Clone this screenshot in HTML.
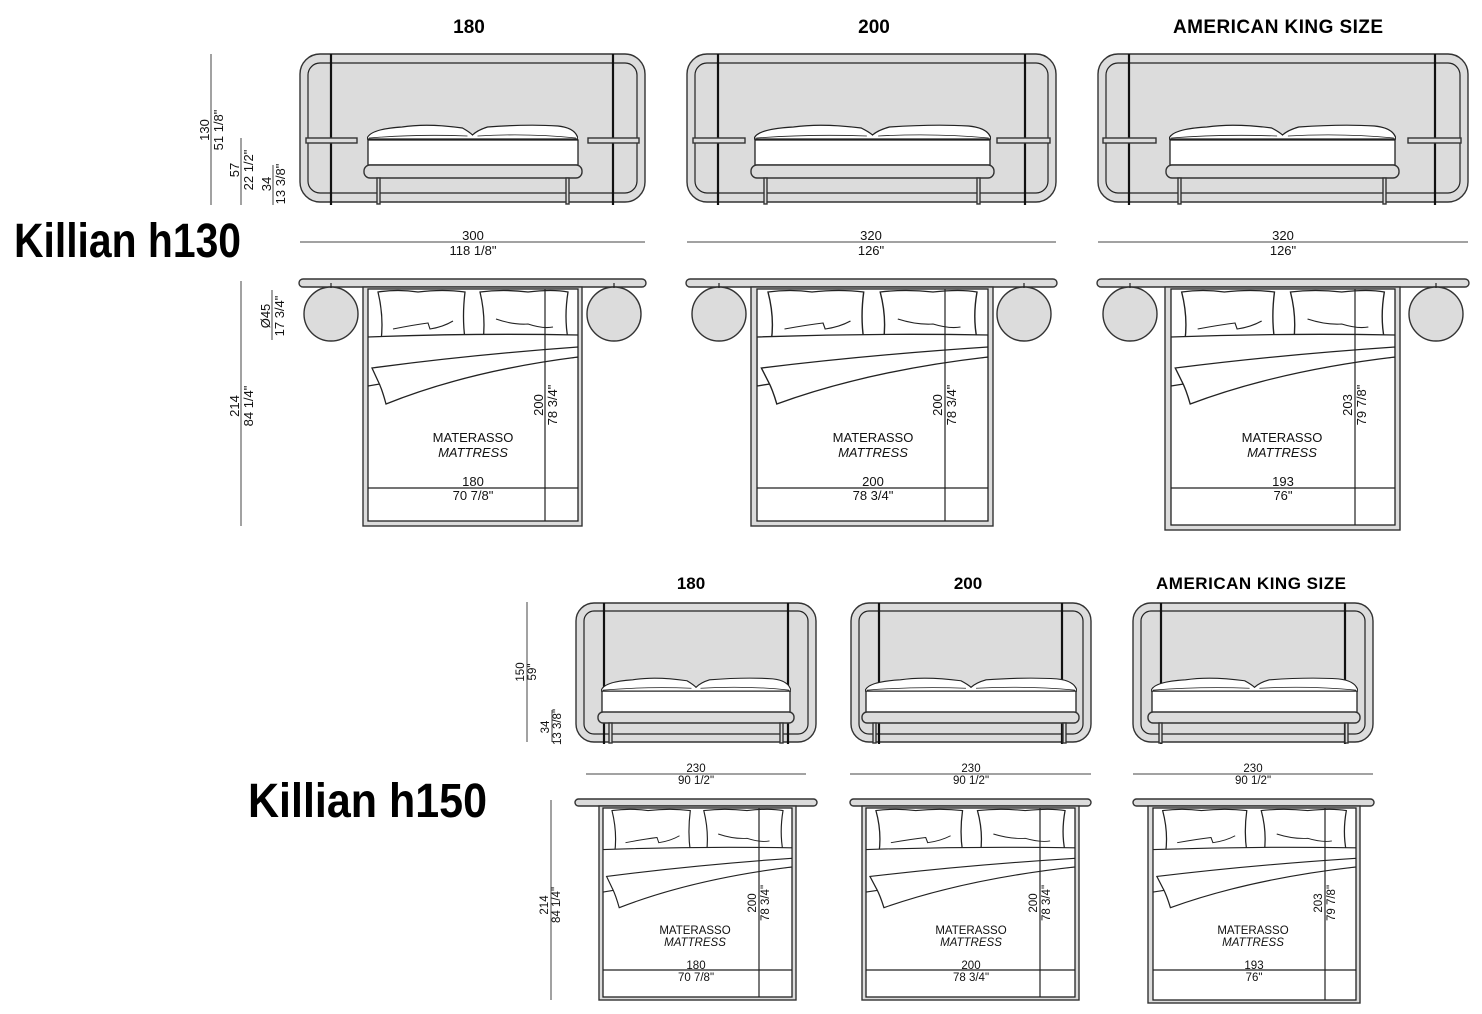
<!DOCTYPE html>
<html><head><meta charset="utf-8"><style>
html,body{margin:0;padding:0;background:#fff;}
svg{display:block;font-family:"Liberation Sans",Arial,sans-serif;}
.g{fill:#dcdcdc;stroke:#333;stroke-width:1.4}
.w{fill:#fff;stroke:#222;stroke-width:1.3}
.n{fill:none;stroke:#222;stroke-width:1.2}
.p{stroke:#111;stroke-width:2.2}
.d{stroke:#444;stroke-width:1}
.t{font-size:13px;fill:#111}
.s{font-size:11.5px;fill:#111}
.h{font-size:19px;font-weight:bold;fill:#000}
.k{font-size:48px;font-weight:bold;fill:#000}
</style></head><body>
<svg width="1482" height="1014" viewBox="0 0 1482 1014" xmlns="http://www.w3.org/2000/svg">
<defs>
<symbol id="fp" viewBox="0 0 210 16" preserveAspectRatio="none">
<path d="M0,15 Q2,5 35,3 Q60,-1 95,4 Q102,8 105,11 Q110,6 120,3 Q160,0 190,2 Q208,4 210,15 Z" fill="#fff" stroke="#222" stroke-width="1.2"/>
<path d="M2,14 Q50,10 100,12 M110,12 Q160,9 208,14" fill="none" stroke="#222" stroke-width="0.8"/>
</symbol>
<symbol id="pd" viewBox="0 0 210 120" preserveAspectRatio="none">
<path d="M10,3 Q30,0 50,3 Q75,0 97,3 Q94,28 97,50 Q55,54 13,52 Q16,28 10,3 Z" fill="#fff" stroke="#222" stroke-width="1.3"/>
<path d="M112,3 Q135,0 160,3 Q185,0 200,3 Q196,28 200,50 Q160,54 115,52 Q118,28 112,3 Z" fill="#fff" stroke="#222" stroke-width="1.3"/>
<path d="M25,40 Q45,36 60,34 L62,40 Q75,38 85,32 M128,30 Q145,36 160,35 Q175,40 185,38" fill="none" stroke="#222" stroke-width="1.1"/>
<path d="M0,48 Q105,44 210,46 L210,68 Q110,78 0,97 Z" fill="#fff" stroke="#222" stroke-width="1.3"/>
<path d="M4,79 Q100,66 210,58 L210,68 Q100,82 18,115 Q14,100 10,92 Z" fill="#fff" stroke="#222" stroke-width="1.3"/>
</symbol>
</defs>

<text x="469" y="33" class="h" text-anchor="middle">180</text>
<text x="874" y="33" class="h" text-anchor="middle">200</text>
<text x="1278" y="33" class="h" text-anchor="middle" textLength="210">AMERICAN KING SIZE</text>
<text x="691" y="589" class="h" text-anchor="middle" style="font-size:17px">180</text>
<text x="968" y="589" class="h" text-anchor="middle" style="font-size:17px">200</text>
<text x="1251" y="589" class="h" text-anchor="middle" style="font-size:17px" textLength="190">AMERICAN KING SIZE</text>
<text x="14" y="257" class="k" textLength="227" lengthAdjust="spacingAndGlyphs">Killian h130</text>
<text x="248" y="817" class="k" textLength="239" lengthAdjust="spacingAndGlyphs">Killian h150</text>

<line x1="211" y1="54" x2="211" y2="205" class="d"/>
<text class="t" transform="translate(209,130) rotate(-90)" text-anchor="middle">130</text>
<text class="t" transform="translate(223,130) rotate(-90)" text-anchor="middle">51 1/8"</text>
<line x1="241" y1="138" x2="241" y2="205" class="d"/>
<text class="t" transform="translate(239,170) rotate(-90)" text-anchor="middle">57</text>
<text class="t" transform="translate(253,170) rotate(-90)" text-anchor="middle">22 1/2"</text>
<line x1="273" y1="165" x2="273" y2="205" class="d"/>
<text class="t" transform="translate(271,184) rotate(-90)" text-anchor="middle">34</text>
<text class="t" transform="translate(285,184) rotate(-90)" text-anchor="middle">13 3/8"</text>
<line x1="241" y1="281" x2="241" y2="526" class="d"/>
<text class="t" transform="translate(239,406) rotate(-90)" text-anchor="middle">214</text>
<text class="t" transform="translate(253,406) rotate(-90)" text-anchor="middle">84 1/4"</text>
<line x1="272" y1="290" x2="272" y2="340" class="d"/>
<text class="t" transform="translate(270,316) rotate(-90)" text-anchor="middle">Ø45</text>
<text class="t" transform="translate(284,316) rotate(-90)" text-anchor="middle">17 3/4"</text>

<line x1="527" y1="602" x2="527" y2="742" class="d"/>
<text class="s" transform="translate(524,672) rotate(-90)" text-anchor="middle">150</text>
<text class="s" transform="translate(536,672) rotate(-90)" text-anchor="middle">59"</text>
<line x1="552" y1="710" x2="552" y2="742" class="d"/>
<text class="s" transform="translate(549,727) rotate(-90)" text-anchor="middle">34</text>
<text class="s" transform="translate(561,727) rotate(-90)" text-anchor="middle">13 3/8"</text>
<line x1="551" y1="800" x2="551" y2="1000" class="d"/>
<text class="s" transform="translate(548,905) rotate(-90)" text-anchor="middle">214</text>
<text class="s" transform="translate(560,905) rotate(-90)" text-anchor="middle">84 1/4"</text>

<rect x="300" y="54" width="345" height="148" rx="20" class="g"/>
<rect x="308" y="63" width="329" height="130" rx="12" class="n"/>
<line x1="331" y1="54" x2="331" y2="205" class="p"/><line x1="613" y1="54" x2="613" y2="205" class="p"/>
<rect x="306" y="138" width="51" height="5" class="g"/><rect x="588" y="138" width="51" height="5" class="g"/>
<rect x="368" y="140" width="210" height="25" class="w"/>
<use href="#fp" x="367" y="124" width="211" height="16"/>
<rect x="364" y="165" width="218" height="13" rx="6" class="g"/>
<rect x="377" y="178" width="3" height="26" class="g"/><rect x="566" y="178" width="3" height="26" class="g"/>

<rect x="687" y="54" width="369" height="148" rx="20" class="g"/>
<rect x="695" y="63" width="353" height="130" rx="12" class="n"/>
<line x1="718" y1="54" x2="718" y2="205" class="p"/><line x1="1025" y1="54" x2="1025" y2="205" class="p"/>
<rect x="693" y="138" width="52" height="5" class="g"/><rect x="997" y="138" width="53" height="5" class="g"/>
<rect x="755" y="140" width="235" height="25" class="w"/>
<use href="#fp" x="754" y="124" width="237" height="16"/>
<rect x="751" y="165" width="243" height="13" rx="6" class="g"/>
<rect x="764" y="178" width="3" height="26" class="g"/><rect x="977" y="178" width="3" height="26" class="g"/>

<rect x="1098" y="54" width="370" height="148" rx="20" class="g"/>
<rect x="1106" y="63" width="354" height="130" rx="12" class="n"/>
<line x1="1129" y1="54" x2="1129" y2="205" class="p"/><line x1="1435" y1="54" x2="1435" y2="205" class="p"/>
<rect x="1103" y="138" width="53" height="5" class="g"/><rect x="1408" y="138" width="53" height="5" class="g"/>
<rect x="1170" y="140" width="225" height="25" class="w"/>
<use href="#fp" x="1169" y="124" width="227" height="16"/>
<rect x="1166" y="165" width="233" height="13" rx="6" class="g"/>
<rect x="1178" y="178" width="3" height="26" class="g"/><rect x="1383" y="178" width="3" height="26" class="g"/>

<line x1="300" y1="242" x2="645" y2="242" class="d"/>
<text x="473" y="240" class="t" text-anchor="middle">300</text><text x="473" y="255" class="t" text-anchor="middle">118 1/8"</text>
<line x1="687" y1="242" x2="1056" y2="242" class="d"/>
<text x="871" y="240" class="t" text-anchor="middle">320</text><text x="871" y="255" class="t" text-anchor="middle">126"</text>
<line x1="1098" y1="242" x2="1468" y2="242" class="d"/>
<text x="1283" y="240" class="t" text-anchor="middle">320</text><text x="1283" y="255" class="t" text-anchor="middle">126"</text>

<rect x="299" y="279" width="347" height="8" rx="4" class="g"/>
<circle cx="331" cy="314" r="27" class="g"/><circle cx="614" cy="314" r="27" class="g"/>
<line x1="331" y1="283" x2="331" y2="288" class="n"/><line x1="614" y1="283" x2="614" y2="288" class="n"/>
<rect x="363" y="287" width="219" height="239" class="g"/>
<rect x="368" y="289" width="210" height="232" class="w"/>
<use href="#pd" x="368" y="289" width="210" height="120"/>
<line x1="368" y1="488" x2="578" y2="488" class="n"/>
<line x1="545" y1="289" x2="545" y2="521" class="n"/>
<text x="473" y="442" class="t" text-anchor="middle">MATERASSO</text>
<text x="473" y="457" class="t" text-anchor="middle" font-style="italic">MATTRESS</text>
<text x="473" y="486" class="t" text-anchor="middle">180</text><text x="473" y="500" class="t" text-anchor="middle">70 7/8"</text>
<text class="t" transform="translate(543,405) rotate(-90)" text-anchor="middle">200</text>
<text class="t" transform="translate(557,405) rotate(-90)" text-anchor="middle">78 3/4"</text>

<rect x="686" y="279" width="371" height="8" rx="4" class="g"/>
<circle cx="719" cy="314" r="27" class="g"/><circle cx="1024" cy="314" r="27" class="g"/>
<line x1="719" y1="283" x2="719" y2="288" class="n"/><line x1="1024" y1="283" x2="1024" y2="288" class="n"/>
<rect x="751" y="287" width="242" height="239" class="g"/>
<rect x="757" y="289" width="231" height="232" class="w"/>
<use href="#pd" x="757" y="289" width="231" height="120"/>
<line x1="757" y1="488" x2="988" y2="488" class="n"/>
<line x1="945" y1="289" x2="945" y2="521" class="n"/>
<text x="873" y="442" class="t" text-anchor="middle">MATERASSO</text>
<text x="873" y="457" class="t" text-anchor="middle" font-style="italic">MATTRESS</text>
<text x="873" y="486" class="t" text-anchor="middle">200</text><text x="873" y="500" class="t" text-anchor="middle">78 3/4"</text>
<text class="t" transform="translate(942,405) rotate(-90)" text-anchor="middle">200</text>
<text class="t" transform="translate(956,405) rotate(-90)" text-anchor="middle">78 3/4"</text>

<rect x="1097" y="279" width="372" height="8" rx="4" class="g"/>
<circle cx="1130" cy="314" r="27" class="g"/><circle cx="1436" cy="314" r="27" class="g"/>
<line x1="1130" y1="283" x2="1130" y2="288" class="n"/><line x1="1436" y1="283" x2="1436" y2="288" class="n"/>
<rect x="1165" y="287" width="235" height="243" class="g"/>
<rect x="1171" y="289" width="224" height="236" class="w"/>
<use href="#pd" x="1171" y="289" width="224" height="120"/>
<line x1="1171" y1="488" x2="1395" y2="488" class="n"/>
<line x1="1355" y1="289" x2="1355" y2="525" class="n"/>
<text x="1282" y="442" class="t" text-anchor="middle">MATERASSO</text>
<text x="1282" y="457" class="t" text-anchor="middle" font-style="italic">MATTRESS</text>
<text x="1283" y="486" class="t" text-anchor="middle">193</text><text x="1283" y="500" class="t" text-anchor="middle">76"</text>
<text class="t" transform="translate(1352,405) rotate(-90)" text-anchor="middle">203</text>
<text class="t" transform="translate(1366,405) rotate(-90)" text-anchor="middle">79 7/8"</text>

<rect x="576" y="603" width="240" height="139" rx="18" class="g"/>
<rect x="584" y="611" width="224" height="123" rx="10" class="n"/>
<line x1="604" y1="603" x2="604" y2="744" class="p"/><line x1="788" y1="603" x2="788" y2="744" class="p"/>
<rect x="602" y="691" width="188" height="22" class="w"/>
<use href="#fp" x="601" y="677" width="190" height="15"/>
<rect x="598" y="712" width="196" height="11" rx="5" class="g"/>
<rect x="609" y="723" width="3" height="20" class="g"/><rect x="780" y="723" width="3" height="20" class="g"/>

<rect x="851" y="603" width="240" height="139" rx="18" class="g"/>
<rect x="859" y="611" width="224" height="123" rx="10" class="n"/>
<line x1="879" y1="603" x2="879" y2="744" class="p"/><line x1="1062" y1="603" x2="1062" y2="744" class="p"/>
<rect x="866" y="691" width="210" height="22" class="w"/>
<use href="#fp" x="865" y="677" width="212" height="15"/>
<rect x="862" y="712" width="217" height="11" rx="5" class="g"/>
<rect x="873" y="723" width="3" height="20" class="g"/><rect x="1063" y="723" width="3" height="20" class="g"/>

<rect x="1133" y="603" width="240" height="139" rx="18" class="g"/>
<rect x="1141" y="611" width="224" height="123" rx="10" class="n"/>
<line x1="1161" y1="603" x2="1161" y2="744" class="p"/><line x1="1345" y1="603" x2="1345" y2="744" class="p"/>
<rect x="1152" y="691" width="205" height="22" class="w"/>
<use href="#fp" x="1151" y="677" width="207" height="15"/>
<rect x="1148" y="712" width="212" height="11" rx="5" class="g"/>
<rect x="1159" y="723" width="3" height="20" class="g"/><rect x="1345" y="723" width="3" height="20" class="g"/>

<line x1="586" y1="774" x2="806" y2="774" class="d"/>
<text x="696" y="772" class="s" text-anchor="middle">230</text><text x="696" y="784" class="s" text-anchor="middle">90 1/2"</text>
<line x1="850" y1="774" x2="1091" y2="774" class="d"/>
<text x="971" y="772" class="s" text-anchor="middle">230</text><text x="971" y="784" class="s" text-anchor="middle">90 1/2"</text>
<line x1="1133" y1="774" x2="1373" y2="774" class="d"/>
<text x="1253" y="772" class="s" text-anchor="middle">230</text><text x="1253" y="784" class="s" text-anchor="middle">90 1/2"</text>

<rect x="575" y="799" width="242" height="7" rx="3.5" class="g"/>
<rect x="599" y="806" width="197" height="194" class="g"/>
<rect x="603" y="808" width="189" height="189" class="w"/>
<use href="#pd" x="603" y="808" width="189" height="104"/>
<line x1="603" y1="970" x2="792" y2="970" class="n"/>
<line x1="759" y1="808" x2="759" y2="997" class="n"/>
<text x="695" y="934" class="s" text-anchor="middle">MATERASSO</text>
<text x="695" y="946" class="s" text-anchor="middle" font-style="italic">MATTRESS</text>
<text x="696" y="969" class="s" text-anchor="middle">180</text><text x="696" y="981" class="s" text-anchor="middle">70 7/8"</text>
<text class="s" transform="translate(756,903) rotate(-90)" text-anchor="middle">200</text>
<text class="s" transform="translate(769,903) rotate(-90)" text-anchor="middle">78 3/4"</text>

<rect x="850" y="799" width="241" height="7" rx="3.5" class="g"/>
<rect x="862" y="806" width="217" height="194" class="g"/>
<rect x="866" y="808" width="209" height="189" class="w"/>
<use href="#pd" x="866" y="808" width="209" height="104"/>
<line x1="866" y1="970" x2="1075" y2="970" class="n"/>
<line x1="1040" y1="808" x2="1040" y2="997" class="n"/>
<text x="971" y="934" class="s" text-anchor="middle">MATERASSO</text>
<text x="971" y="946" class="s" text-anchor="middle" font-style="italic">MATTRESS</text>
<text x="971" y="969" class="s" text-anchor="middle">200</text><text x="971" y="981" class="s" text-anchor="middle">78 3/4"</text>
<text class="s" transform="translate(1037,903) rotate(-90)" text-anchor="middle">200</text>
<text class="s" transform="translate(1050,903) rotate(-90)" text-anchor="middle">78 3/4"</text>

<rect x="1133" y="799" width="241" height="7" rx="3.5" class="g"/>
<rect x="1148" y="806" width="212" height="197" class="g"/>
<rect x="1153" y="808" width="203" height="192" class="w"/>
<use href="#pd" x="1153" y="808" width="203" height="104"/>
<line x1="1153" y1="970" x2="1356" y2="970" class="n"/>
<line x1="1325" y1="808" x2="1325" y2="1000" class="n"/>
<text x="1253" y="934" class="s" text-anchor="middle">MATERASSO</text>
<text x="1253" y="946" class="s" text-anchor="middle" font-style="italic">MATTRESS</text>
<text x="1254" y="969" class="s" text-anchor="middle">193</text><text x="1254" y="981" class="s" text-anchor="middle">76"</text>
<text class="s" transform="translate(1322,903) rotate(-90)" text-anchor="middle">203</text>
<text class="s" transform="translate(1335,903) rotate(-90)" text-anchor="middle">79 7/8"</text>
</svg>
</body></html>
